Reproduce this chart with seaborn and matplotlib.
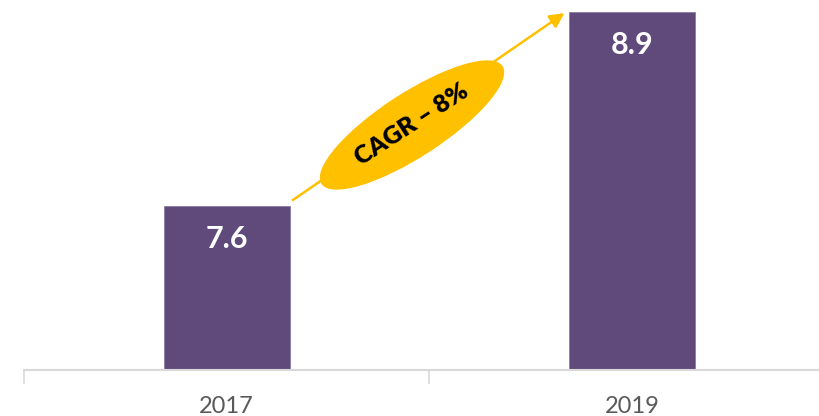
import matplotlib
matplotlib.use("Agg")
import matplotlib.pyplot as plt
from matplotlib.patches import Ellipse
import seaborn as sns
import pandas as pd

years = ["2017", "2019"]
values = [7.6, 8.9]
value_labels = ["7.6", "8.9"]
cagr_label = "CAGR – 8%"

sns.set_theme(style="white")
plt.rcParams['font.family'] = ['Lato', 'DejaVu Sans']

df = pd.DataFrame({"year": years, "value": values})

fig = plt.figure(figsize=(8.2, 4.16), dpi=100)
ax = fig.add_axes([24/820, 46/416, 811/820, 370/416])
sns.barplot(data=df, x="year", y="value", color="#604A7B", width=0.31,
            saturation=1, ax=ax, edgecolor="#8a7aa0", linewidth=0.6)

ymin = 6.507
ax.set_ylim(ymin, ymin + 370/149.6)
ax.set_xlim(-0.5, 1.5)

for i, (v, lab) in enumerate(zip(values, value_labels)):
    ax.annotate(lab, (i, v), xytext=(0, -23.5), textcoords="offset points",
                ha="center", va="center", color="white", fontsize=22,
                fontweight="bold")

for s in ["left", "right", "top"]:
    ax.spines[s].set_visible(False)
ax.spines["bottom"].set_color("#d9d9d9")
ax.spines["bottom"].set_linewidth(1.5)
ax.set_yticks([])
ax.set_xlabel("")
ax.set_ylabel("")
ax.tick_params(axis="x", which="major", length=0, pad=19, labelsize=17,
               labelcolor="#595959")
ax.set_xticks([-0.5, 0.5, 1.5], minor=True)
ax.tick_params(axis="x", which="minor", length=10, width=1.2, color="#d9d9d9",
               bottom=True)

# CAGR arrow between bar tops
ax.annotate("", xy=(0.833, 8.893), xytext=(0.163, 7.643),
            arrowprops=dict(arrowstyle="-|>", color="#FFC000", lw=1.8,
                            mutation_scale=22, shrinkA=0, shrinkB=0))

# ellipse badge (in inches so the angle is preserved)
ell = Ellipse((4.12, 2.91), 2.16, 0.64, angle=33, transform=fig.dpi_scale_trans,
              facecolor="#FFC000", edgecolor="none", zorder=5)
fig.add_artist(ell)
fig.text(4.12/8.2, 2.91/4.16, cagr_label, rotation=33, ha="center", va="center",
         fontsize=18, fontweight="heavy", color="black", zorder=6,
         rotation_mode="anchor")

fig.savefig("out.png", dpi=100)
